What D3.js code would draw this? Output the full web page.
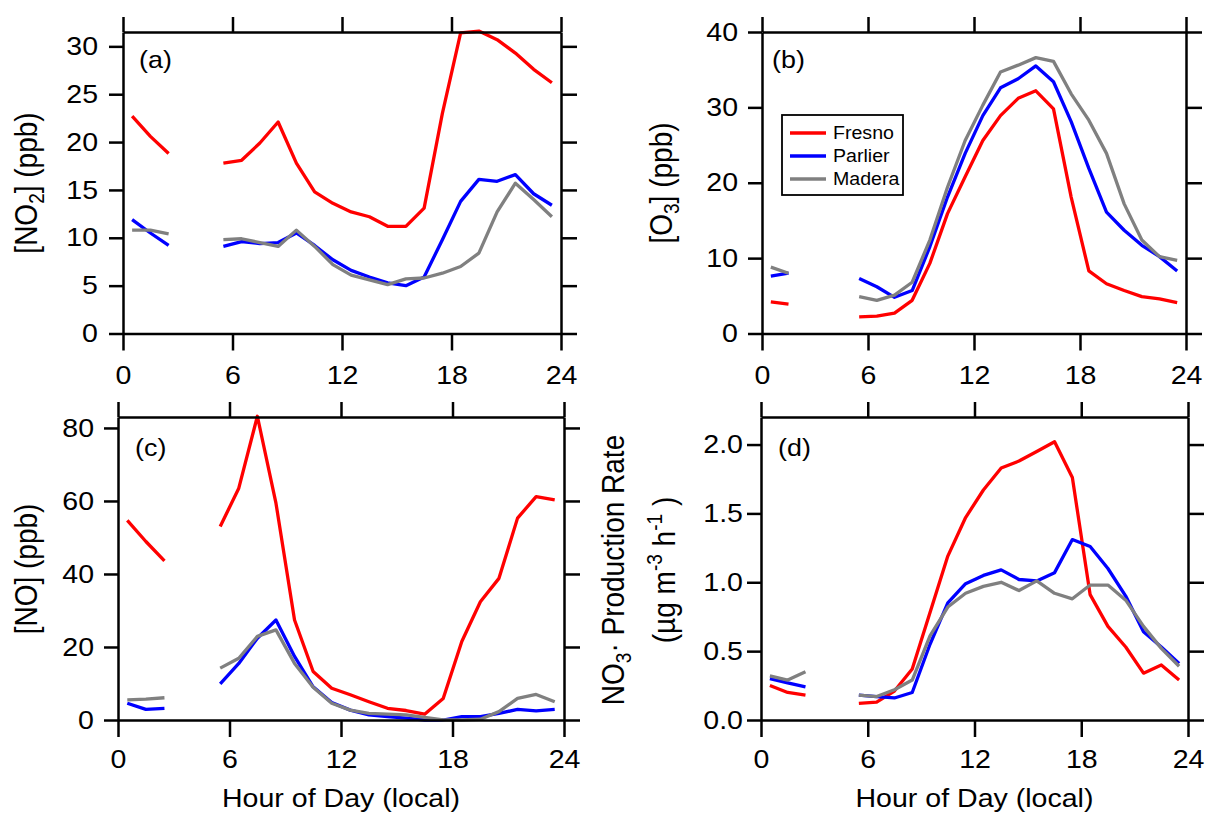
<!DOCTYPE html>
<html><head><meta charset="utf-8">
<script src="https://cdn.jsdelivr.net/npm/d3@7"></script>
<style>body{margin:0;background:#fff}svg{display:block}text{font-family:"Liberation Sans",Arial,sans-serif;fill:#000}</style>
</head><body>
<svg id="c" width="1207" height="815"></svg>
<script>
const hours = [0.5,1.5,2.5,3.5,4.5,5.5,6.5,7.5,8.5,9.5,10.5,11.5,12.5,13.5,14.5,15.5,16.5,17.5,18.5,19.5,20.5,21.5,22.5,23.5];
const sites = ["Fresno","Parlier","Madera"];
const siteColors = ["#ff0000","#0000ff","#808080"];
const xTicks = [0,6,12,18,24];

const no2_fresno  = [22.7,20.6,18.8,null,null,17.8,18.1,19.9,22.1,17.8,14.8,13.6,12.7,12.2,11.2,11.2,13.1,23.0,31.4,31.6,30.7,29.3,27.6,26.2];
const no2_parlier = [11.9,10.5,9.2,null,null,9.1,9.6,9.4,9.5,10.5,9.2,7.7,6.6,5.9,5.3,5.0,5.9,9.8,13.8,16.1,15.9,16.6,14.6,13.4];
const no2_madera  = [10.8,10.8,10.4,null,null,9.8,9.9,9.5,9.1,10.8,9.1,7.2,6.1,5.6,5.1,5.7,5.8,6.3,7.0,8.4,12.7,15.7,14.0,12.2];

const o3_fresno  = [4.2,3.9,null,null,null,2.2,2.3,2.7,4.4,9.3,15.9,20.8,25.6,28.9,31.2,32.2,29.8,18.1,8.3,6.6,5.7,4.9,4.6,4.1];
const o3_parlier = [7.6,8.0,null,null,null,7.3,6.2,4.8,5.7,11.5,18.1,23.9,28.9,32.6,33.8,35.5,33.4,28.1,21.9,16.1,13.7,11.7,10.2,8.3];
const o3_madera  = [8.8,8.0,null,null,null,4.9,4.4,5.1,6.8,12.4,19.4,25.6,30.3,34.7,35.6,36.6,36.1,31.8,28.3,23.9,17.2,12.4,10.2,9.7];

const no_fresno  = [54.7,48.9,43.6,null,null,53.0,63.5,83.2,59.4,27.4,13.3,8.7,6.9,5.0,3.2,2.6,1.6,5.9,21.5,32.4,38.8,55.3,61.2,60.3];
const no_parlier = [4.6,2.9,3.2,null,null,9.9,15.5,22.4,27.4,17.4,9.1,4.8,2.7,1.4,0.9,0.5,0.0,0.0,0.9,0.9,1.8,2.9,2.5,2.9];
const no_madera  = [5.5,5.7,6.1,null,null,14.2,16.9,22.9,24.7,15.5,9.0,4.6,2.7,1.8,1.6,1.4,0.7,0.0,0.0,0.2,2.3,5.9,7.0,5.0];

const p_fresno  = [0.25,0.20,0.18,null,null,0.12,0.13,0.21,0.37,0.78,1.19,1.47,1.67,1.83,1.88,1.95,2.02,1.76,0.91,0.68,0.53,0.34,0.40,0.29];
const p_parlier = [0.30,0.27,0.24,null,null,0.18,0.17,0.16,0.20,0.55,0.85,0.99,1.05,1.09,1.02,1.01,1.07,1.31,1.26,1.10,0.90,0.64,0.53,0.41];
const p_madera  = [0.32,0.29,0.35,null,null,0.18,0.17,0.22,0.29,0.61,0.82,0.92,0.97,1.00,0.94,1.01,0.92,0.88,0.98,0.98,0.87,0.68,0.52,0.39];

const yTicksA = [0,5,10,15,20,25,30];
const yTicksB = [0,10,20,30,40];
const yTicksC = [0,20,40,60,80];
const yTicksD = [0.0,0.5,1.0,1.5,2.0];

const SX = 1.12;   // horizontal stretch of the original figure's lettering
const FONT = '"Liberation Sans",Arial,sans-serif';

const panels = [
  {tag:"(a)", box:[123,561,32,333.5], ymax:31.5, yTicks:yTicksA, fmt:d3.format("d"), lpad:11, bpad:15, tagXY:[139,68], series:[no2_fresno,no2_parlier,no2_madera]},
  {tag:"(b)", box:[762,1186,32,333.5], ymax:40, yTicks:yTicksB, fmt:d3.format("d"), lpad:10, bpad:15, tagXY:[772,68], series:[o3_fresno,o3_parlier,o3_madera], legend:true},
  {tag:"(c)", box:[118,564,417,720], ymax:83, yTicks:yTicksC, fmt:d3.format("d"), lpad:10, bpad:13, tagXY:[135,456], series:[no_fresno,no_parlier,no_madera], xtitle:true},
  {tag:"(d)", box:[761,1188,417,720], ymax:2.2, yTicks:yTicksD, fmt:d3.format(".1f"), lpad:4, bpad:13, tagXY:[778,456], series:[p_fresno,p_parlier,p_madera], xtitle:true}
];

const svg = d3.select("#c");
const AX = 2.5;

function stretch(sel){
  sel.each(function(){
    const x = +(this.getAttribute("x")||0);
    this.setAttribute("transform",`translate(${x},0) scale(${SX},1) translate(${-x},0)`);
  });
}

panels.forEach(p => {
  const [x0,x1,y0,y1] = p.box;
  const x = d3.scaleLinear().domain([0,24]).range([x0,x1]);
  const y = d3.scaleLinear().domain([0,p.ymax]).range([y1,y0]);
  const g = svg.append("g");

  const line = d3.line().defined(d => d[1] !== null).x(d => x(d[0])).y(d => y(d[1]));
  p.series.forEach((s,i) => {
    g.append("path").datum(hours.map((h,j)=>[h,s[j]]))
      .attr("d", line).attr("fill","none").attr("stroke", siteColors[i])
      .attr("stroke-width", 3.3).attr("stroke-linejoin","round");
  });

  const fs = 25.5;
  const bottom = d3.axisBottom(x).tickValues(xTicks).tickSizeInner(17).tickSizeOuter(0).tickPadding(p.bpad).tickFormat(d3.format("d"));
  const top = d3.axisTop(x).tickValues(xTicks).tickSizeInner(15).tickSizeOuter(0).tickFormat("");
  const left = d3.axisLeft(y).tickValues(p.yTicks).tickSizeInner(14).tickSizeOuter(0).tickPadding(p.lpad).tickFormat(p.fmt);
  const right = d3.axisRight(y).tickValues(p.yTicks).tickSizeInner(16).tickSizeOuter(0).tickFormat("");
  const style = sel => {
    sel.attr("font-size",null).attr("font-family",null);
    sel.selectAll("path,line").attr("stroke","#000").attr("stroke-width",AX);
    sel.selectAll("text").attr("font-size",fs).attr("font-family",FONT).attr("fill","#000").call(stretch);
  };
  g.append("g").attr("transform",`translate(0,${y1})`).call(bottom).call(style);
  g.append("g").attr("transform",`translate(0,${y0})`).call(top).call(style);
  g.append("g").attr("transform",`translate(${x0},0)`).call(left).call(style);
  g.append("g").attr("transform",`translate(${x1},0)`).call(right).call(style);

  g.append("text").attr("x", p.tagXY[0]).attr("y", p.tagXY[1])
    .attr("font-size",24).text(p.tag).call(stretch);

  if (p.xtitle) {
    g.append("text").attr("x",(x0+x1)/2).attr("y",807).attr("text-anchor","middle")
      .attr("font-size",25.5).text("Hour of Day (local)").call(stretch);
  }

  if (p.legend) {
    const lg = g.append("g");
    lg.append("rect").attr("x",782).attr("y",115).attr("width",121).attr("height",80)
      .attr("fill","#fff").attr("stroke","#000").attr("stroke-width",1.8);
    sites.forEach((s,i)=>{
      const yy = 133 + i*23;
      lg.append("line").attr("x1",790).attr("x2",826).attr("y1",yy).attr("y2",yy)
        .attr("stroke",siteColors[i]).attr("stroke-width",3.3);
      lg.append("text").attr("x",833).attr("y",yy+6.5).attr("font-size",17.5).text(s).call(stretch);
    });
  }
});

function ylabel(bx, cy, parts, fsz) {
  const t = svg.append("text").attr("transform",`translate(${bx},${cy}) scale(${SX},1) rotate(-90)`)
    .attr("text-anchor","middle").attr("font-size",fsz);
  parts.forEach(pt => {
    const ts = t.append("tspan").text(pt.t);
    if (pt.sub) ts.attr("font-size",fsz*0.68).attr("dy",fsz*0.22);
    if (pt.sup) ts.attr("font-size",fsz*0.68).attr("dy",-fsz*0.42);
    if (pt.back) ts.attr("dy",pt.back);
  });
  return t;
}
const F = 28;
ylabel(37,183,[{t:"[NO"},{t:"2",sub:true},{t:"] (ppb)",back:-F*0.22}],F);
ylabel(672,183,[{t:"[O"},{t:"3",sub:true},{t:"] (ppb)",back:-F*0.22}],F);
ylabel(37,569,[{t:"[NO] (ppb)"}],F);
ylabel(624,570,[{t:"NO"},{t:"3",sub:true},{t:"· Production Rate",back:-F*0.22}],F);
ylabel(675,570,[{t:"(µg m"},{t:"-3",sup:true},{t:" h",back:F*0.42},{t:"-1",sup:true},{t:" )",back:F*0.42}],F);
</script>
</body></html>
